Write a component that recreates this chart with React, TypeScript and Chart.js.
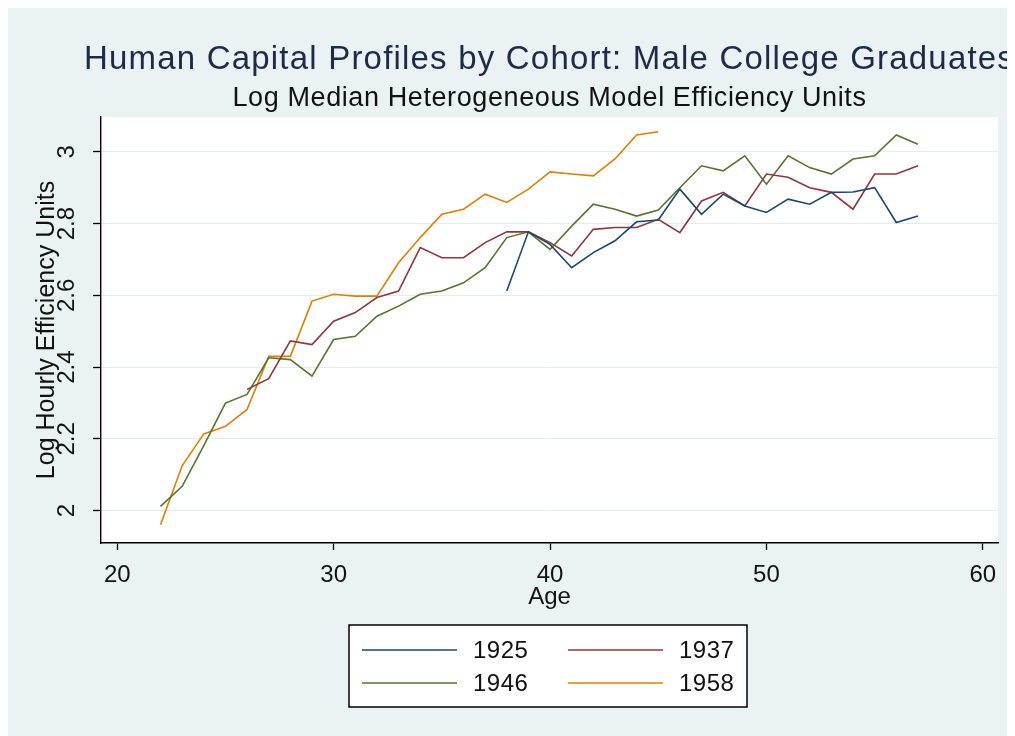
import { useEffect, useRef } from "react";
import { Chart, registerables } from "chart.js";

Chart.register(...registerables);

const titleText = "Human Capital Profiles by Cohort: Male College Graduates";
const subtitleText = "Log Median Heterogeneous Model Efficiency Units";
const xTitle = "Age";
const yTitle = "Log Hourly Efficiency Units";

const cohorts = ["1925", "1937", "1946", "1958"];
const colors = ["#1a476f", "#90353b", "#55752f", "#e37e00"];

const ages1925 = [38, 39, 40, 41, 42, 43, 44, 45, 46, 47, 48, 49, 50, 51, 52, 53, 54, 55, 56, 57];
const values1925 = [2.612, 2.777, 2.742, 2.677, 2.719, 2.752, 2.805, 2.81, 2.896, 2.826, 2.882, 2.849, 2.831, 2.868, 2.854, 2.887, 2.888, 2.9, 2.803, 2.821];

const ages1937 = [26, 27, 28, 29, 30, 31, 32, 33, 34, 35, 36, 37, 38, 39, 40, 41, 42, 43, 44, 45, 46, 47, 48, 49, 50, 51, 52, 53, 54, 55, 56, 57];
const values1937 = [2.338, 2.368, 2.473, 2.463, 2.528, 2.552, 2.594, 2.612, 2.733, 2.705, 2.705, 2.747, 2.777, 2.777, 2.747, 2.71, 2.784, 2.789, 2.789, 2.812, 2.775, 2.863, 2.887, 2.849, 2.938, 2.929, 2.9, 2.887, 2.84, 2.938, 2.938, 2.961];

const ages1946 = [22, 23, 24, 25, 26, 27, 28, 29, 30, 31, 32, 33, 34, 35, 36, 37, 38, 39, 40, 41, 42, 43, 44, 45, 46, 47, 48, 49, 50, 51, 52, 53, 54, 55, 56, 57];
const values1946 = [2.012, 2.068, 2.181, 2.3, 2.324, 2.426, 2.421, 2.375, 2.477, 2.486, 2.542, 2.57, 2.603, 2.612, 2.635, 2.677, 2.761, 2.777, 2.728, 2.793, 2.854, 2.84, 2.821, 2.838, 2.9, 2.961, 2.947, 2.989, 2.91, 2.989, 2.956, 2.938, 2.98, 2.989, 3.047, 3.021];

const ages1958 = [22, 23, 24, 25, 26, 27, 28, 29, 30, 31, 32, 33, 34, 35, 36, 37, 38, 39, 40, 41, 42, 43, 44, 45];
const values1958 = [1.961, 2.125, 2.214, 2.235, 2.282, 2.43, 2.43, 2.584, 2.603, 2.598, 2.598, 2.691, 2.761, 2.826, 2.84, 2.882, 2.859, 2.896, 2.944, 2.938, 2.933, 2.98, 3.047, 3.056];

const xTicks = [20, 30, 40, 50, 60];
const yTicks = [2, 2.2, 2.4, 2.6, 2.8, 3];

const FONT = "'Liberation Sans', Arial, sans-serif";

export default function App() {
  const ref = useRef<HTMLCanvasElement>(null);

  useEffect(() => {
    const canvas = ref.current;
    if (!canvas) return;

    const series = [
      [ages1925, values1925],
      [ages1937, values1937],
      [ages1946, values1946],
      [ages1958, values1958],
    ];

    const datasets = series.map(([xs, ys], i) => ({
      label: cohorts[i],
      data: xs.map((x, j) => ({ x, y: ys[j] })),
      borderColor: colors[i],
      backgroundColor: colors[i],
      borderWidth: 1.6,
      pointRadius: 0,
      tension: 0,
      fill: false,
    }));

    const bgPlugin = {
      id: "bg",
      beforeDraw(chart: any) {
        const { ctx, width, height, chartArea: a } = chart;
        ctx.save();
        ctx.fillStyle = "#eaf2f3";
        ctx.fillRect(0, 0, width, height);
        ctx.fillStyle = "#ffffff";
        ctx.fillRect(a.left, a.top, a.right - a.left, a.bottom - a.top);
        ctx.restore();
      },
    };

    const textPlugin = {
      id: "texts",
      afterDraw(chart: any) {
        const { ctx, chartArea: a } = chart;
        const cx = (a.left + a.right) / 2;
        ctx.save();
        ctx.textAlign = "center";
        ctx.textBaseline = "alphabetic";
        (ctx as any).letterSpacing = "1.2px";
        ctx.fillStyle = "#1e2b47";
        ctx.font = `33px ${FONT}`;
        ctx.fillText(titleText, cx, 61);
        (ctx as any).letterSpacing = "0.6px";
        ctx.fillStyle = "#111111";
        ctx.font = `27px ${FONT}`;
        ctx.fillText(subtitleText, cx, 98);
        (ctx as any).letterSpacing = "0px";

        // legend
        const bx = 341, by = 617, bw = 398, bh = 82;
        ctx.fillStyle = "#ffffff";
        ctx.fillRect(bx, by, bw, bh);
        ctx.strokeStyle = "#000000";
        ctx.lineWidth = 1.5;
        ctx.strokeRect(bx, by, bw, bh);
        const rows = [642, 675];
        const lineX = [354, 560];
        const lineLen = 95;
        ctx.font = `24px ${FONT}`;
        ctx.textAlign = "left";
        ctx.textBaseline = "middle";
        (ctx as any).letterSpacing = "0.5px";
        chart.data.datasets.forEach((ds: any, i: number) => {
          const r = Math.floor(i / 2);
          const c = i % 2;
          const y = rows[r];
          const x0 = lineX[c];
          ctx.strokeStyle = ds.borderColor;
          ctx.lineWidth = 1.7;
          ctx.beginPath();
          ctx.moveTo(x0, y);
          ctx.lineTo(x0 + lineLen, y);
          ctx.stroke();
          ctx.fillStyle = "#111111";
          ctx.fillText(ds.label, x0 + lineLen + 16, y + 1);
        });
        ctx.restore();
      },
    };

    const chart = new Chart(canvas, {
      type: "line",
      data: { datasets } as any,
      options: {
        animation: false,
        responsive: false,
        events: [],
        layout: { padding: { left: 0, top: 109, right: 17, bottom: 123 } },
        plugins: {
          legend: { display: false },
          title: { display: false },
          tooltip: { enabled: false },
        },
        scales: {
          x: {
            type: "linear",
            min: 19.25,
            max: 60.7,
            afterBuildTicks: (scale: any) => {
              scale.ticks = xTicks.map((v) => ({ value: v }));
            },
            afterFit: (scale: any) => {
              scale.height = 70;
            },
            grid: {
              drawOnChartArea: false,
              drawTicks: true,
              tickLength: 7,
              tickColor: "#000000",
              tickWidth: 1.3,
            },
            border: { display: true, color: "#000000", width: 1.4 },
            ticks: {
              padding: 11,
              color: "#111111",
              font: { family: FONT, size: 24 },
              maxRotation: 0,
              minRotation: 0,
              callback: (v: any) => String(v),
            },
            title: {
              display: true,
              text: xTitle,
              color: "#111111",
              font: { family: FONT, size: 24 },
              padding: { top: 0, bottom: 1 },
            },
          },
          y: {
            type: "linear",
            min: 1.91,
            max: 3.097,
            afterBuildTicks: (scale: any) => {
              scale.ticks = yTicks.map((v) => ({ value: v }));
            },
            afterFit: (scale: any) => {
              scale.width = 93;
            },
            grid: {
              color: "#e4eced",
              lineWidth: 1,
              drawTicks: true,
              tickLength: 8,
              tickColor: "#000000",
              tickWidth: 1.3,
            },
            border: { display: true, color: "#000000", width: 1.4 },
            ticks: {
              padding: 9,
              color: "#111111",
              font: { family: FONT, size: 24 },
              minRotation: 90,
              maxRotation: 90,
              crossAlign: "center",
              callback: (v: any) => String(Math.round(Number(v) * 10) / 10),
            },
            title: {
              display: true,
              text: yTitle,
              color: "#111111",
              font: { family: FONT, size: 25 },
              padding: { top: 24, bottom: 0 },
            },
          },
        },
      } as any,
      plugins: [bgPlugin, textPlugin],
    });

    return () => chart.destroy();
  }, []);

  return (
    <canvas
      ref={ref}
      width={1007}
      height={728}
      style={{ display: "block", width: 1007, height: 728 }}
    />
  );
}
